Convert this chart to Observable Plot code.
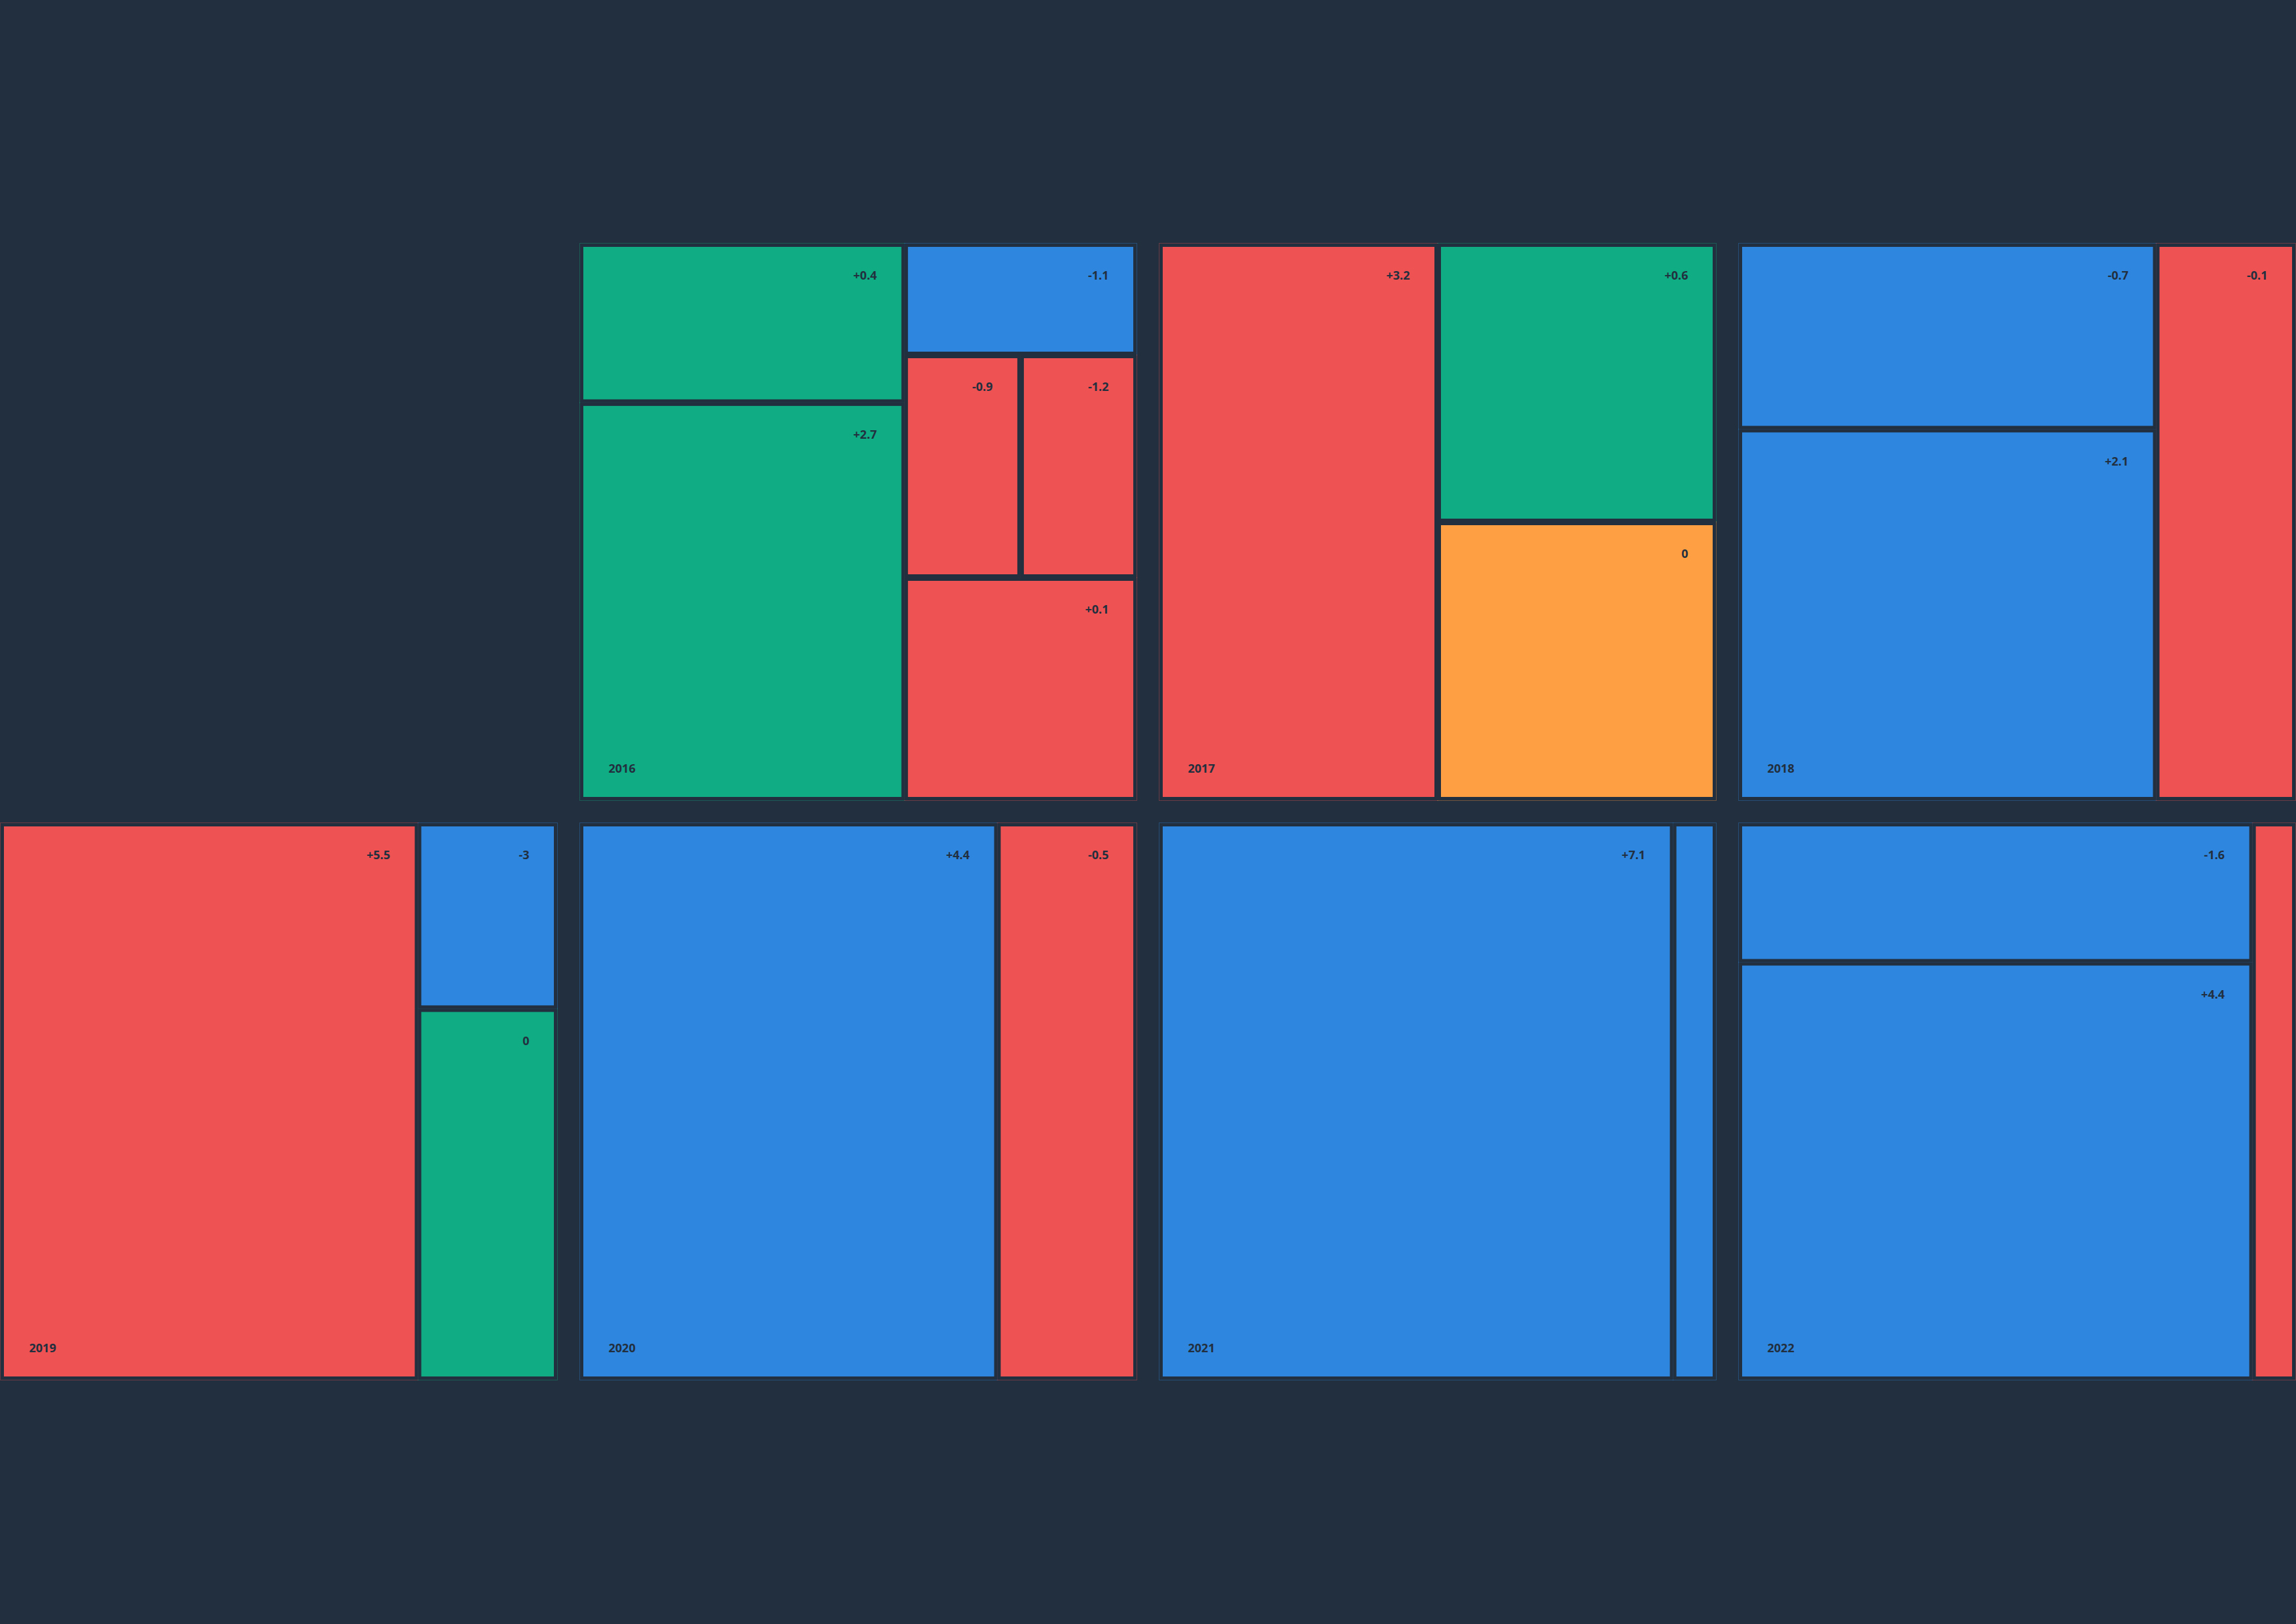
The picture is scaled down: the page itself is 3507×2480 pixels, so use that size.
<!DOCTYPE html>
<html>
<head>
<meta charset="utf-8">
<script src="https://cdn.jsdelivr.net/npm/d3@7"></script>
<script src="https://cdn.jsdelivr.net/npm/@observablehq/plot@0.6"></script>
<style>
  html, body { margin: 0; padding: 0; background: #222f3e; overflow: hidden; }
  #chart svg { display: block; }
</style>
</head>
<body>
<div id="chart"></div>
<script>
// ---- data ----
const years = [2016, 2017, 2018, 2019, 2020, 2021, 2022];
const firstGridYear = 2015; // grid slot 0 is empty
const gridColumns = 4;

// categories: A = green, B = blue, C = red, D = orange
const tileYears  = [2016, 2016, 2016, 2016, 2016, 2016,
                    2017, 2017, 2017,
                    2018, 2018, 2018,
                    2019, 2019, 2019,
                    2020, 2020,
                    2021, 2021,
                    2022, 2022, 2022];
const tileGroups = ["A", "A", "B", "C", "C", "C",
                    "C", "A", "D",
                    "B", "B", "C",
                    "C", "B", "A",
                    "B", "C",
                    "B", "B",
                    "B", "B", "C"];
const tileSizes  = [2, 5, 1, 1, 1, 2,
                    2, 1, 1,
                    1, 2, 1,
                    9, 1, 2,
                    3, 1,
                    12, 1,
                    3, 9, 1];
const tileLabels = ["+0.4", "+2.7", "-1.1", "-0.9", "-1.2", "+0.1",
                    "+3.2", "+0.6", "0",
                    "-0.7", "+2.1", "-0.1",
                    "+5.5", "-3", "0",
                    "+4.4", "-0.5",
                    "+7.1", null,
                    "-1.6", "+4.4", null];

const groupNames  = ["A", "B", "C", "D"];
const groupColors = ["#10ac84", "#2e86de", "#ee5253", "#ff9f43"];

// ---- layout (d3 treemap per year) ----
const items = tileYears.map((year, i) => ({
  year, group: tileGroups[i], size: tileSizes[i], label: tileLabels[i]
}));

const tiles = [];
for (const year of years) {
  const yearItems = items.filter(d => d.year === year);
  const groups = d3.groups(yearItems, d => d.group).map(([group, children]) => ({group, children}));
  const root = d3.hierarchy({children: groups}).sum(d => d.size);
  d3.treemap().tile(d3.treemapSquarify.ratio(1)).size([1, 1]).round(false)(root);
  const slot = year - firstGridYear;
  root.leaves().forEach((leaf, k) => {
    tiles.push({
      ...leaf.data,
      left: leaf.x0, right: leaf.x1, top: leaf.y0, bottom: leaf.y1,
      col: slot % gridColumns,
      row: Math.floor(slot / gridColumns),
      first: k === 0
    });
  });
}

const bg = "#222f3e";

const chart = Plot.plot({
  width: 3507,
  height: 2480,
  marginTop: 372,
  marginBottom: 373,
  marginLeft: 0,
  marginRight: 0,
  style: {background: bg, fontFamily: "'Open Sans', 'Noto Sans', sans-serif", overflow: "visible"},
  facet: {data: tiles, x: "col", y: "row"},
  fx: {domain: [0, 1, 2, 3], paddingInner: 0.04, paddingOuter: 0, axis: null},
  fy: {domain: [0, 1], paddingInner: 0.04, paddingOuter: 0, axis: null},
  x: {domain: [0, 1], axis: null},
  y: {domain: [0, 1], reverse: true, axis: null},
  color: {type: "ordinal", domain: groupNames, range: groupColors},
  marks: [
    // faint outline along each tile's full extent
    Plot.rect(tiles, {
      x1: "left", x2: "right", y1: "top", y2: "bottom",
      fill: "none", stroke: "group", strokeOpacity: 0.35, strokeWidth: 2
    }),
    // filled tile with a background-coloured gutter
    Plot.rect(tiles, {
      x1: "left", x2: "right", y1: "top", y2: "bottom",
      fill: "group", stroke: bg, strokeWidth: 5, inset: 2.5
    }),
    // value labels
    Plot.text(tiles, {
      filter: d => d.label != null,
      x: "right", y: "top", text: "label",
      textAnchor: "end", lineAnchor: "middle",
      dx: -43, dy: 49,
      fontSize: 18, fontWeight: 700, fill: bg
    }),
    // year labels
    Plot.text(tiles, {
      filter: d => d.first,
      text: d => String(d.year),
      frameAnchor: "bottom-left",
      textAnchor: "start", lineAnchor: "middle",
      dx: 43, dy: -48,
      fontSize: 18, fontWeight: 700, fill: bg
    })
  ]
});

document.getElementById("chart").appendChild(chart);
</script>
</body>
</html>
